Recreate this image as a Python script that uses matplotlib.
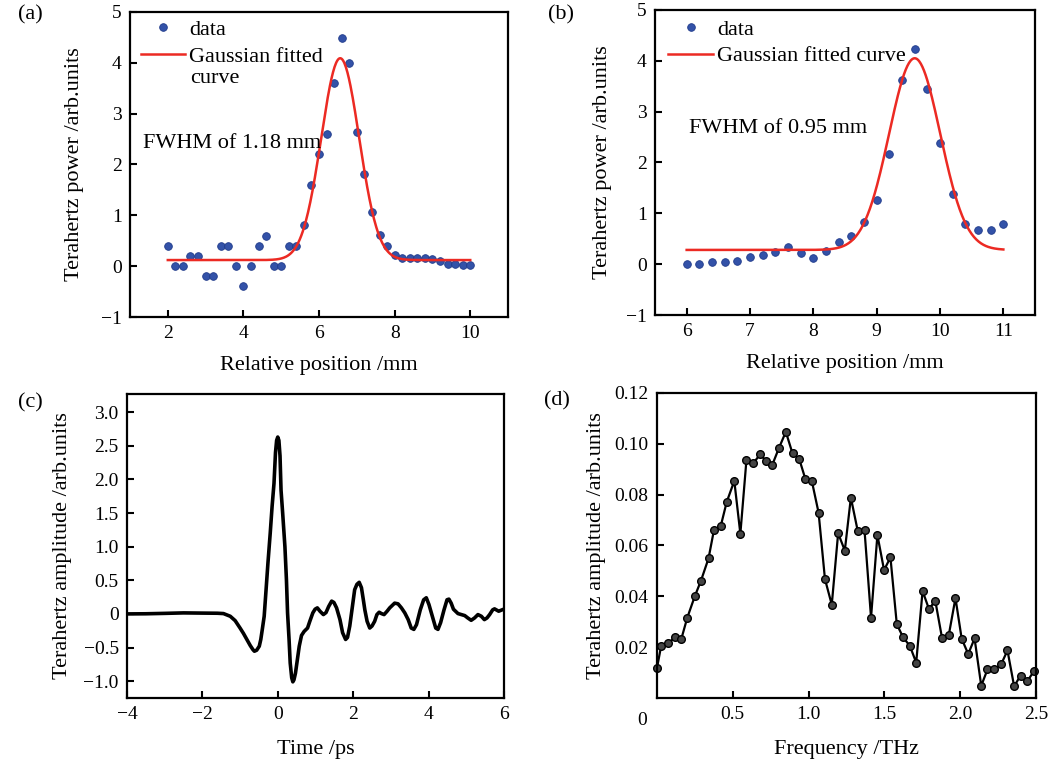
import matplotlib.pyplot as plt
import numpy as np
from matplotlib.ticker import FuncFormatter

plt.rcParams['font.family'] = ['Liberation Serif', 'DejaVu Serif']
plt.rcParams['font.size'] = 14

# (a) knife-edge scan, first direction
pos_a = [2.0, 2.2, 2.4, 2.6, 2.8, 3.0, 3.2, 3.4, 3.6, 3.8, 4.0, 4.2, 4.4, 4.6,
         4.8, 5.0, 5.2, 5.4, 5.6, 5.8, 6.0, 6.2, 6.4, 6.6, 6.8, 7.0, 7.2, 7.4,
         7.6, 7.8, 8.0, 8.2, 8.4, 8.6, 8.8, 9.0, 9.2, 9.4, 9.6, 9.8, 10.0]
pow_a = [0.4, 0.0, 0.0, 0.2, 0.2, -0.2, -0.2, 0.4, 0.4, 0.0, -0.4, 0.0, 0.4, 0.6,
         0.0, 0.0, 0.4, 0.4, 0.8, 1.6, 2.2, 2.6, 3.6, 4.48, 4.0, 2.64, 1.82, 1.06,
         0.61, 0.39, 0.22, 0.16, 0.17, 0.17, 0.16, 0.15, 0.1, 0.05, 0.04, 0.03, 0.03]
# gaussian fit params: center, fwhm, amplitude, baseline
fit_a = (6.56, 1.18, 3.97, 0.12)

# (b) second direction
pos_b = [6.0, 6.2, 6.4, 6.6, 6.8, 7.0, 7.2, 7.4, 7.6, 7.8, 8.0, 8.2, 8.4,
         8.6, 8.8, 9.0, 9.2, 9.4, 9.6, 9.8, 10.0, 10.2, 10.4, 10.6, 10.8, 11.0]
pow_b = [0.01, 0.01, 0.05, 0.05, 0.07, 0.14, 0.18, 0.24, 0.33, 0.22, 0.13, 0.25, 0.43,
         0.56, 0.82, 1.26, 2.16, 3.63, 4.24, 3.44, 2.39, 1.39, 0.79, 0.68, 0.68, 0.79]
fit_b = (9.6, 0.95, 3.77, 0.28)

# (c) time-domain waveform
t_c = [-4.0, -3.5, -3.0, -2.5, -2.0, -1.6, -1.44, -1.26, -1.13, -1.0, -0.91, -0.82,
       -0.73, -0.66, -0.62, -0.56, -0.49, -0.45, -0.41, -0.36, -0.31, -0.26, -0.2,
       -0.15, -0.1, -0.06, -0.03, 0.0, 0.03, 0.06, 0.087, 0.13, 0.19, 0.23, 0.26,
       0.3, 0.33, 0.37, 0.4, 0.43, 0.47, 0.52, 0.57, 0.63, 0.7, 0.79, 0.85, 0.93,
       0.99, 1.05, 1.12, 1.21, 1.28, 1.35, 1.43, 1.49, 1.56, 1.65, 1.72, 1.8, 1.85,
       1.91, 1.98, 2.04, 2.1, 2.16, 2.22, 2.27, 2.31, 2.37, 2.44, 2.5, 2.57, 2.63,
       2.69, 2.75, 2.82, 2.9, 2.97, 3.1, 3.19, 3.28, 3.37, 3.46, 3.54, 3.61, 3.68,
       3.78, 3.87, 3.94, 4.01, 4.1, 4.19, 4.25, 4.32, 4.41, 4.49, 4.54, 4.6, 4.66,
       4.78, 4.87, 4.96, 5.04, 5.13, 5.22, 5.31, 5.4, 5.48, 5.55, 5.62, 5.7, 5.75,
       5.86, 5.97, 6.0]
amp_c = [0.0, 0.002, 0.008, 0.015, 0.012, 0.01, 0.005, -0.035, -0.1, -0.21, -0.29, -0.38,
         -0.47, -0.53, -0.555, -0.54, -0.48, -0.38, -0.23, -0.035, 0.36, 0.76, 1.2,
         1.6, 1.94, 2.4, 2.58, 2.63, 2.58, 2.35, 1.84, 1.5, 1.0, 0.51, 0.015,
         -0.38, -0.73, -0.95, -1.01, -0.98, -0.88, -0.68, -0.48, -0.32, -0.26, -0.21, -0.11, 0.015,
         0.07, 0.09, 0.04, -0.01, 0.02, 0.11, 0.19, 0.17, 0.09, -0.085, -0.28, -0.38, -0.35,
         -0.18, 0.11, 0.36, 0.44, 0.47, 0.39, 0.21, 0.06, -0.11, -0.21, -0.18, -0.11, -0.01,
         0.025, 0.005, -0.01, 0.04, 0.09, 0.16, 0.15, 0.09, 0.015, -0.085, -0.21, -0.23, -0.16,
         0.06, 0.21, 0.24, 0.14, -0.035, -0.21, -0.23, -0.13, 0.06, 0.21, 0.22, 0.16, 0.07,
         0.005, -0.01, -0.025, -0.06, -0.095, -0.06, -0.01, -0.035, -0.085, -0.06, -0.01, 0.06, 0.075,
         0.04, 0.065, 0.07]

# (d) spectrum
f_d = [0.0, 0.027, 0.075, 0.12, 0.16, 0.20, 0.25, 0.29, 0.34, 0.376, 0.42, 0.46,
       0.51, 0.55, 0.59, 0.635, 0.68, 0.72, 0.76, 0.805, 0.85, 0.894, 0.938, 0.978,
       1.022, 1.066, 1.108, 1.153, 1.195, 1.239, 1.279, 1.325, 1.369, 1.412, 1.454,
       1.498, 1.54, 1.582, 1.624, 1.668, 1.71, 1.752, 1.794, 1.836, 1.88, 1.925,
       1.969, 2.01, 2.053, 2.095, 2.139, 2.18, 2.226, 2.27, 2.312, 2.356, 2.398,
       2.442, 2.487]
amp_d = [0.0118, 0.0203, 0.0216, 0.0239, 0.0231, 0.0316, 0.0401, 0.0461, 0.0549,
         0.0661, 0.0675, 0.0771, 0.0854, 0.0646, 0.0935, 0.0923, 0.0958, 0.0933,
         0.0916, 0.0984, 0.1047, 0.0962, 0.0941, 0.0863, 0.0852, 0.0729, 0.0468,
         0.0367, 0.0648, 0.058, 0.0788, 0.0655, 0.066, 0.0316, 0.0641, 0.0503,
         0.0553, 0.029, 0.0238, 0.0205, 0.0139, 0.0421, 0.035, 0.0382, 0.0237,
         0.0248, 0.0393, 0.0233, 0.0173, 0.0234, 0.0048, 0.0112, 0.0112, 0.0132,
         0.0187, 0.0046, 0.0088, 0.0065, 0.0106]


def gauss(x, p):
    c, fw, a, b = p
    s = fw / 2.3548
    return b + a * np.exp(-(x - c) ** 2 / (2 * s ** 2))


def style(ax):
    ax.tick_params(direction='in', length=5, width=1.5, top=False, right=False, pad=6)
    for sp in ax.spines.values():
        sp.set_linewidth(1.6)


fig = plt.figure(figsize=(10.51, 7.67), dpi=100)
ax_a = fig.add_axes([0.1237, 0.5867, 0.3597, 0.3977])
ax_b = fig.add_axes([0.6232, 0.5893, 0.3616, 0.3977])
ax_c = fig.add_axes([0.1208, 0.0900, 0.3587, 0.3963])
ax_d = fig.add_axes([0.6251, 0.0900, 0.3606, 0.3977])

blue = '#3352a8'
red = '#ec2a23'
lab = 16

# panel a
xa = np.linspace(2, 10, 400)
ax_a.plot(pos_a, pow_a, 'o', color=blue, mec='#1f3a8a', mew=0.6, ms=5.5, label='data')
ax_a.plot(xa, gauss(xa, fit_a), color=red, lw=1.8, label='Gaussian fitted')
ax_a.set_xlim(1, 11)
ax_a.set_ylim(-1, 5)
ax_a.set_xticks([2, 4, 6, 8, 10])
ax_a.set_yticks([-1, 0, 1, 2, 3, 4, 5])
ax_a.set_xlabel('Relative position /mm', fontsize=lab, labelpad=10)
ax_a.set_ylabel('Terahertz power /arb.units', fontsize=lab, labelpad=12)
ax_a.text(0.034, 0.57, 'FWHM of 1.18 mm', transform=ax_a.transAxes, fontsize=lab, va='center')
ax_a.legend(loc='upper left', bbox_to_anchor=(0.028, 0.975), frameon=False, fontsize=lab,
            handlelength=2.0, handletextpad=0.2, labelspacing=0.28, borderpad=0.0,
            borderaxespad=0.0, numpoints=1)
ax_a.text(0.159, 0.783, 'curve', transform=ax_a.transAxes, fontsize=lab, va='center')
style(ax_a)

# panel b
xb = np.linspace(6, 11, 400)
ax_b.plot(pos_b, pow_b, 'o', color=blue, mec='#1f3a8a', mew=0.6, ms=5.5, label='data')
ax_b.plot(xb, gauss(xb, fit_b), color=red, lw=1.8, label='Gaussian fitted curve')
ax_b.set_xlim(5.5, 11.5)
ax_b.set_ylim(-1, 5)
ax_b.set_xticks([6, 7, 8, 9, 10, 11])
ax_b.set_yticks([-1, 0, 1, 2, 3, 4, 5])
ax_b.set_xlabel('Relative position /mm', fontsize=lab, labelpad=10)
ax_b.set_ylabel('Terahertz power /arb.units', fontsize=lab, labelpad=10)
ax_b.text(0.089, 0.613, 'FWHM of 0.95 mm', transform=ax_b.transAxes, fontsize=lab, va='center')
ax_b.legend(loc='upper left', bbox_to_anchor=(0.035, 0.97), frameon=False, fontsize=lab,
            handlelength=2.0, handletextpad=0.2, labelspacing=0.28, borderpad=0.0,
            borderaxespad=0.0, numpoints=1)
style(ax_b)

# panel c
ax_c.plot(t_c, amp_c, color='black', lw=2.6, solid_joinstyle='round')
ax_c.set_xlim(-4, 6)
ax_c.set_ylim(-1.25, 3.27)
ax_c.set_xticks([-4, -2, 0, 2, 4, 6])
ax_c.set_yticks([-1.0, -0.5, 0, 0.5, 1.0, 1.5, 2.0, 2.5, 3.0])
ax_c.yaxis.set_major_formatter(FuncFormatter(lambda v, p: '0' if abs(v) < 1e-9 else ('%.1f' % v).replace('-', '\u2212')))
ax_c.set_xlabel('Time /ps', fontsize=lab, labelpad=12)
ax_c.set_ylabel('Terahertz amplitude /arb.units', fontsize=lab, labelpad=8)
style(ax_c)

# panel d
ax_d.plot(f_d, amp_d, '-o', color='black', lw=1.6, ms=5.5, mfc='#444444', mec='black', mew=1.0,
          clip_on=False)
ax_d.set_xlim(0, 2.5)
ax_d.set_ylim(0, 0.12)
ax_d.set_xticks([0.5, 1.0, 1.5, 2.0, 2.5])
ax_d.set_xticklabels(['0.5', '1.0', '1.5', '2.0', '2.5'])
ax_d.set_yticks([0.02, 0.04, 0.06, 0.08, 0.10, 0.12])
ax_d.set_yticklabels(['0.02', '0.04', '0.06', '0.08', '0.10', '0.12'])
ax_d.text(-0.04, -0.045, '0', transform=ax_d.transAxes, ha='center', va='top', fontsize=14)
ax_d.set_xlabel('Frequency /THz', fontsize=lab, labelpad=12)
ax_d.set_ylabel('Terahertz amplitude /arb.units', fontsize=lab, labelpad=6)
style(ax_d)

fig.text(0.017, 0.98, '(a)', fontsize=lab, va='center')
fig.text(0.521, 0.98, '(b)', fontsize=lab, va='center')
fig.text(0.017, 0.475, '(c)', fontsize=lab, va='center')
fig.text(0.518, 0.478, '(d)', fontsize=lab, va='center')

fig.savefig('out.png', dpi=100)
